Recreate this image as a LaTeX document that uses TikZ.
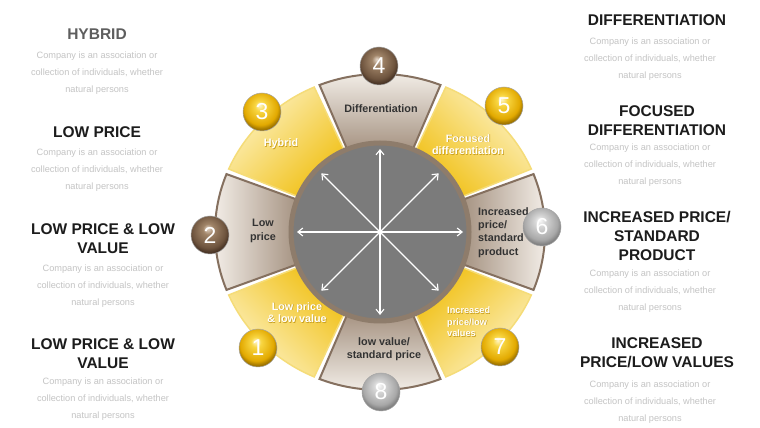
\documentclass[tikz,border=0pt]{standalone}
\usepackage{fontspec}
\setmainfont{Liberation Sans}
\usetikzlibrary{arrows.meta,calc}
\definecolor{ylight}{HTML}{FDF2C2}
\definecolor{ydark}{HTML}{F0BE0E}
\definecolor{yedge}{HTML}{F5DC78}
\definecolor{blight}{HTML}{F5F0EA}
\definecolor{bdark}{HTML}{9E8A78}
\definecolor{bedge}{HTML}{85705F}
\definecolor{hubgray}{HTML}{7B7B7B}
\definecolor{hubrim}{HTML}{8E7C6B}
\definecolor{headc}{HTML}{1C1C1C}
\definecolor{hybc}{HTML}{5E5E5E}
\definecolor{descc}{HTML}{C4C4C4}
\definecolor{labdark}{HTML}{333333}
\definecolor{yshadow}{HTML}{C9A020}
\definecolor{yb0}{HTML}{FFF6C8}
\definecolor{yb1}{HTML}{F8D540}
\definecolor{yb2}{HTML}{E2A900}
\definecolor{yb3}{HTML}{9E7400}
\definecolor{bb0}{HTML}{E6D8CA}
\definecolor{bb1}{HTML}{A08468}
\definecolor{bb2}{HTML}{6E543E}
\definecolor{bb3}{HTML}{4A3526}
\definecolor{sb0}{HTML}{FAFAFA}
\definecolor{sb1}{HTML}{D6D6D6}
\definecolor{sb2}{HTML}{A8A8A8}
\definecolor{sb3}{HTML}{808080}
\pgfdeclareradialshading{yballsh}{\pgfpoint{-3bp}{9bp}}{color(0bp)=(yb0); color(7bp)=(yb1); color(22bp)=(yb2); color(27bp)=(yb3); color(50bp)=(yb3)}
\pgfdeclareradialshading{bballsh}{\pgfpoint{-3bp}{9bp}}{color(0bp)=(bb0); color(7bp)=(bb1); color(22bp)=(bb2); color(27bp)=(bb3); color(50bp)=(bb3)}
\pgfdeclareradialshading{sballsh}{\pgfpoint{-3bp}{9bp}}{color(0bp)=(sb0); color(7bp)=(sb1); color(22bp)=(sb2); color(27bp)=(sb3); color(50bp)=(sb3)}
\newcommand\ringseg[2]{%
  \pgfmathsetmacro\segA{#1-21.5}%
  \pgfmathsetmacro\segB{#1+21.5}%
  \pgfmathsetmacro\segS{#1-90}%
  \path[#2, shading angle=\segS] ($(C)+(\segA:165 and 158)$)
    arc[start angle=\segA, end angle=\segB, x radius=165, y radius=158]
    -- ($(C)+(\segB:80)$)
    arc[start angle=\segB, end angle=\segA, radius=80] -- cycle;}
\begin{document}
\begin{tikzpicture}[x=1pt,y=1pt,
  yseg/.style={top color=ylight, bottom color=ydark, draw=yedge, line width=1.5pt},
  bseg/.style={top color=blight, bottom color=bdark, draw=bedge, line width=2pt},
  arr/.style={white, line width=1.1pt, -{Straight Barb[length=5pt,width=8pt]}},
  dlab/.style={font=\bfseries\fontsize{10.8}{13}\selectfont, text=labdark, align=center, inner sep=0pt},
  wlab/.style={font=\bfseries\fontsize{10.8}{12.5}\selectfont, text=white, align=center, inner sep=0pt},
  ball/.style={circle, minimum size=38pt, inner sep=0pt, shading=#1, draw=black!35, line width=0.5pt,
     font=\fontsize{23}{23}\selectfont, text=white},
  head/.style={font=\bfseries\fontsize{15.5}{19}\selectfont, text=headc, align=center, inner sep=0pt},
  desc/.style={font=\fontsize{9.2}{17}\selectfont, text=descc, align=center, inner sep=0pt}]
\useasboundingbox (0,0) rectangle (760,428);
\fill[white] (0,0) rectangle (760,428);
\coordinate (C) at (380,196);
% ring segments
\ringseg{90}{bseg}
\ringseg{135}{yseg}
\ringseg{180}{bseg}
\ringseg{225}{yseg}
\ringseg{270}{bseg}
\ringseg{315}{yseg}
\ringseg{0}{bseg}
\ringseg{45}{yseg}
% hub
\node[circle, minimum size=178pt, inner sep=0pt, fill=hubgray, draw=hubrim, line width=5pt] (hub) at (C) {};
% arrows
\foreach \a in {0,45,...,315}{
  \coordinate (t\a) at ($(C)+(\a:83)$);
  \draw[arr] (C) -- (t\a);
}
% segment labels
\node[dlab] (l4) at (381,319) {Differentiation};
\node[wlab, text=yshadow] (l3s) at (281.7,283.3) {Hybrid};
\node[wlab] (l3) at (281,284) {Hybrid};
\node[wlab, text=yshadow] (l5s) at (468.7,282.8) {Focused\\differentiation};
\node[wlab] (l5) at (468,283.5) {Focused\\differentiation};
\node[dlab, font=\bfseries\fontsize{10.8}{14}\selectfont] (l2) at (263,197) {Low\\price};
\node[dlab, align=left, anchor=west, font=\bfseries\fontsize{10.8}{13.2}\selectfont] (l6) at (478,195.5) {Increased\\price/\\standard\\product};
\node[wlab, text=yshadow] (l1s) at (297.7,114.8) {Low price\\\& low value};
\node[wlab] (l1) at (297,115.5) {Low price\\\& low value};
\node[dlab, font=\bfseries\fontsize{10.8}{12.5}\selectfont] (l8) at (384,79) {low value/\\standard price};
\node[wlab, align=left, anchor=west, text=yshadow, font=\bfseries\fontsize{9.2}{11.6}\selectfont] (l7s) at (447.7,105.3) {Increased\\price/low\\values};
\node[wlab, align=left, anchor=west, font=\bfseries\fontsize{9.2}{11.6}\selectfont] (l7) at (447,106) {Increased\\price/low\\values};
% balls
\node[ball=yballsh] (b1) at (258,80) {1};
\node[ball=bballsh] (b2) at (210,193) {2};
\node[ball=yballsh] (b3) at (262,316) {3};
\node[ball=bballsh] (b4) at (379,362) {4};
\node[ball=yballsh] (b5) at (504,322) {5};
\node[ball=sballsh] (b6) at (542,201) {6};
\node[ball=yballsh] (b7) at (500,81) {7};
\node[ball=sballsh] (b8) at (381,36) {8};
% left texts
\node[head, text=hybc] (hL1) at (97,394) {HYBRID};
\node[desc] (dL1) at (97,355) {Company is an association or\\collection of individuals, whether\\natural persons};
\node[head] (hL2) at (97,296) {LOW PRICE};
\node[desc] (dL2) at (97,258) {Company is an association or\\collection of individuals, whether\\natural persons};
\node[head] (hL3) at (103,189) {LOW PRICE \& LOW\\VALUE};
\node[desc] (dL3) at (103,142) {Company is an association or\\collection of individuals, whether\\natural persons};
\node[head] (hL4) at (103,74.5) {LOW PRICE \& LOW\\VALUE};
\node[desc] (dL4) at (103,29) {Company is an association or\\collection of individuals, whether\\natural persons};
% right texts
\node[head] (hR1) at (657,408) {DIFFERENTIATION};
\node[desc] (dR1) at (650,369) {Company is an association or\\collection of individuals, whether\\natural persons};
\node[head] (hR2) at (657,307.5) {FOCUSED\\DIFFERENTIATION};
\node[desc] (dR2) at (650,263) {Company is an association or\\collection of individuals, whether\\natural persons};
\node[head] (hR3) at (657,192) {INCREASED PRICE/\\STANDARD\\PRODUCT};
\node[desc] (dR3) at (650,137) {Company is an association or\\collection of individuals, whether\\natural persons};
\node[head] (hR4) at (657,75) {INCREASED\\PRICE/LOW VALUES};
\node[desc] (dR4) at (650,26) {Company is an association or\\collection of individuals, whether\\natural persons};
\end{tikzpicture}
\end{document}
